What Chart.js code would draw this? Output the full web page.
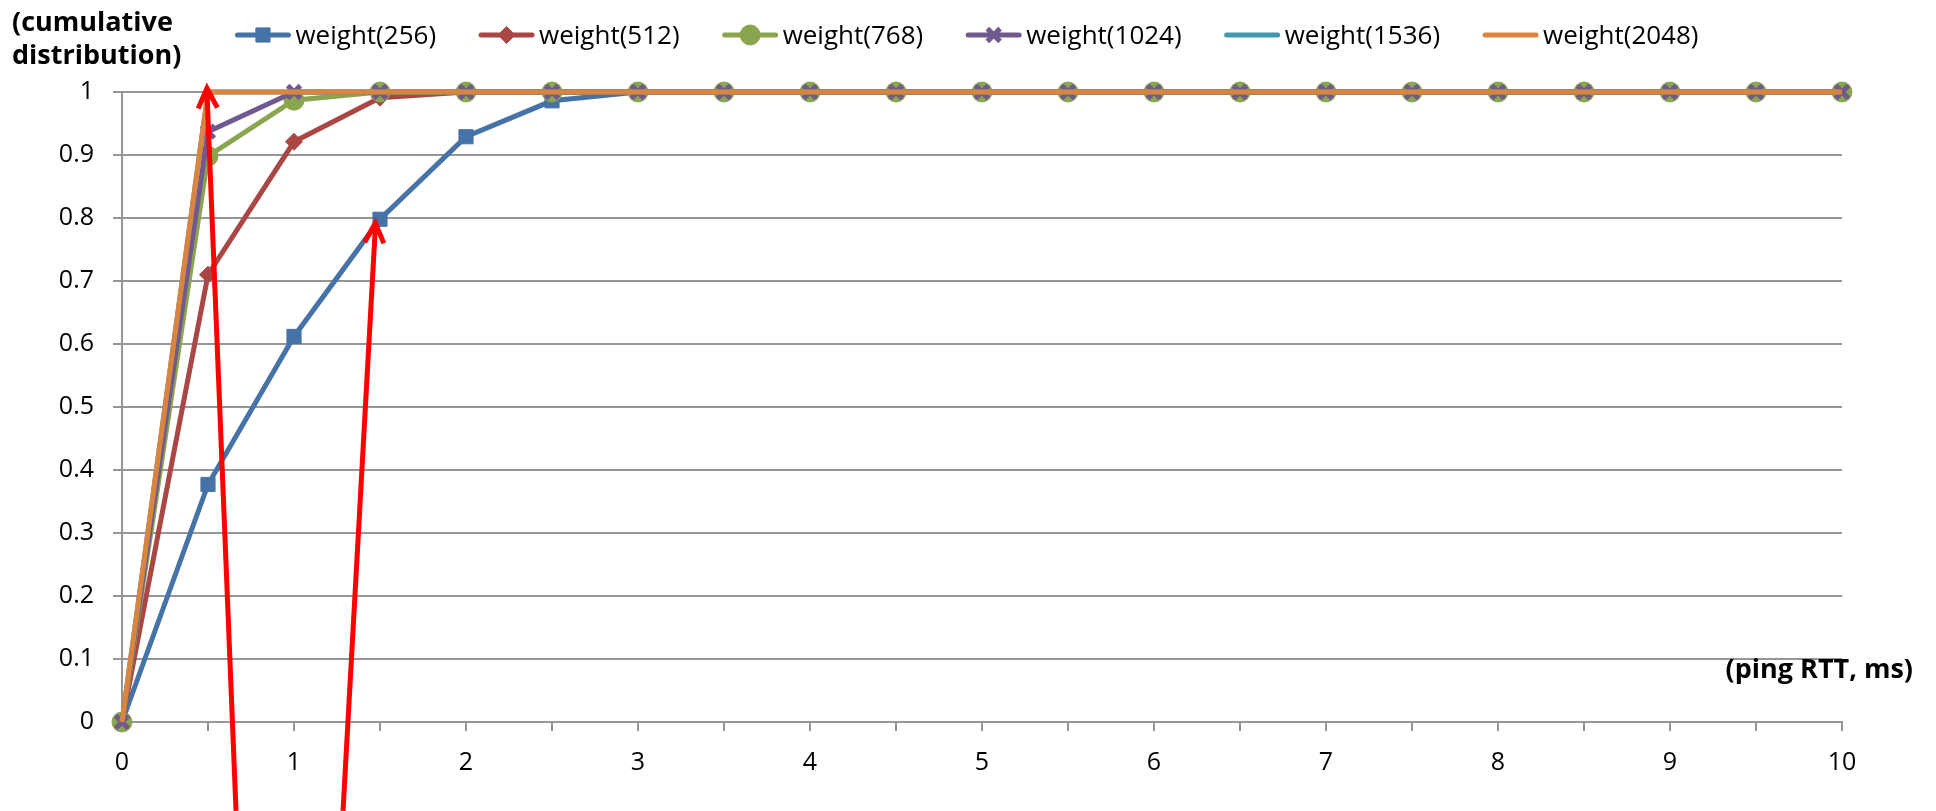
<!DOCTYPE html>
<html>
<head>
<meta charset="utf-8">
<script src="https://cdn.jsdelivr.net/npm/chart.js@4.4.0/dist/chart.umd.min.js"></script>
<style>
html,body{margin:0;padding:0;background:#ffffff;overflow:hidden}
#wrap{position:relative;width:1936px;height:811px}
</style>
</head>
<body>
<div id="wrap"><canvas id="c" width="1936" height="811"></canvas></div>
<script>
// ---- data ----
const rtt = [0, 0.5, 1, 1.5, 2, 2.5, 3, 3.5, 4, 4.5, 5, 5.5, 6, 6.5, 7, 7.5, 8, 8.5, 9, 9.5, 10];
const seriesNames = ['weight(256)', 'weight(512)', 'weight(768)', 'weight(1024)', 'weight(1536)', 'weight(2048)'];
const w256  = [0, 0.377, 0.612, 0.798, 0.929, 0.986, 1, 1, 1, 1, 1, 1, 1, 1, 1, 1, 1, 1, 1, 1, 1];
const w512  = [0, 0.71, 0.921, 0.991, 1, 1, 1, 1, 1, 1, 1, 1, 1, 1, 1, 1, 1, 1, 1, 1, 1];
const w768  = [0, 0.898, 0.987, 1, 1, 1, 1, 1, 1, 1, 1, 1, 1, 1, 1, 1, 1, 1, 1, 1, 1];
const w1024 = [0, 0.937, 1, 1, 1, 1, 1, 1, 1, 1, 1, 1, 1, 1, 1, 1, 1, 1, 1, 1, 1];
const w1536 = [0, 1, 1, 1, 1, 1, 1, 1, 1, 1, 1, 1, 1, 1, 1, 1, 1, 1, 1, 1, 1];
const w2048 = [0, 1, 1, 1, 1, 1, 1, 1, 1, 1, 1, 1, 1, 1, 1, 1, 1, 1, 1, 1, 1];
const yTitleLines = ['(cumulative', 'distribution)'];
const xTitle = '(ping RTT, ms)';
// hand-drawn red arrows in data units: [tailX, tailY, headX, headY]
const arrows = [[0.663, -0.141, 0.494, 1.006], [1.285, -0.141, 1.473, 0.792]];

// ---- styles ----
const seriesValues = [w256, w512, w768, w1024, w1536, w2048];
const colors = ['#4572A7', '#AA4643', '#89A54E', '#71588F', '#4198AF', '#DB843D'];
const markers = [
  {style: 'rect', r: 10, bw: 1},
  {style: 'rectRot', r: 8.5, bw: 1},
  {style: 'circle', r: 10, bw: 1},
  {style: 'crossRot', r: 9, bw: 5},
  {style: false, r: 0, bw: 0},
  {style: false, r: 0, bw: 0}
];
const FONT = "'Open Sans', 'DejaVu Sans', sans-serif";
const gridColor = '#969696';

const datasets = seriesNames.map((name, i) => ({
  label: name,
  data: rtt.map((x, j) => ({x: x, y: seriesValues[i][j]})),
  borderColor: colors[i],
  backgroundColor: colors[i],
  borderWidth: 5,
  pointStyle: markers[i].style || 'circle',
  pointRadius: markers[i].r,
  pointBorderWidth: markers[i].bw,
  pointBackgroundColor: colors[i],
  pointBorderColor: colors[i],
  pointHoverRadius: markers[i].r,
  tension: 0,
  clip: false,
  order: seriesNames.length - i
}));

const legendPlugin = {
  id: 'xlLegend',
  afterDraw(chart) {
    const ctx = chart.ctx;
    ctx.save();
    ctx.font = '26px ' + FONT;
    const lineLen = 55, textGap = 5, itemGap = 43, cy = 35;
    const widths = seriesNames.map(n => ctx.measureText(n).width);
    let total = 0;
    widths.forEach((w, i) => { total += lineLen + textGap + w + (i ? itemGap : 0); });
    let x = (chart.width - total) / 2 - 1;
    seriesNames.forEach((name, i) => {
      ctx.strokeStyle = colors[i];
      ctx.lineWidth = 5;
      ctx.lineCap = 'round';
      ctx.beginPath();
      ctx.moveTo(x + 2, cy);
      ctx.lineTo(x + lineLen - 2, cy);
      ctx.stroke();
      ctx.lineCap = 'butt';
      if (markers[i].style) {
        ctx.fillStyle = colors[i];
        ctx.strokeStyle = colors[i];
        ctx.lineWidth = markers[i].bw;
        Chart.helpers.drawPoint(ctx, {pointStyle: markers[i].style, radius: markers[i].r, rotation: 0, borderWidth: markers[i].bw}, x + lineLen / 2, cy);
      }
      ctx.fillStyle = '#000000';
      ctx.textBaseline = 'alphabetic';
      ctx.textAlign = 'left';
      ctx.fillText(name, x + lineLen + textGap, 44);
      x += lineLen + textGap + widths[i] + itemGap;
    });
    ctx.restore();
  }
};

const titlePlugin = {
  id: 'xlTitles',
  afterDraw(chart) {
    const ctx = chart.ctx;
    const ys = chart.scales.y;
    ctx.save();
    ctx.font = 'bold 27px ' + FONT;
    ctx.fillStyle = '#000000';
    ctx.textBaseline = 'alphabetic';
    ctx.textAlign = 'left';
    ctx.fillText(yTitleLines[0], 12, 31);
    ctx.fillText(yTitleLines[1], 12, 64);
    ctx.textAlign = 'right';
    ctx.fillText(xTitle, chart.chartArea.right + 71, ys.getPixelForValue(0.1) + 19);
    ctx.restore();
  }
};

const arrowPlugin = {
  id: 'redArrows',
  afterDraw(chart) {
    const ctx = chart.ctx;
    const xs = chart.scales.x, ys = chart.scales.y;
    ctx.save();
    ctx.strokeStyle = '#FF0000';
    ctx.lineWidth = 5;
    ctx.lineCap = 'butt';
    ctx.lineJoin = 'miter';
    arrows.forEach(a => {
      const x1 = xs.getPixelForValue(a[0]), y1 = ys.getPixelForValue(a[1]);
      const x2 = xs.getPixelForValue(a[2]), y2 = ys.getPixelForValue(a[3]);
      ctx.beginPath();
      ctx.moveTo(x1, y1);
      ctx.lineTo(x2, y2 + 4);
      ctx.stroke();
      const ang = Math.atan2(y1 - y2, x1 - x2);
      const L = 22, spread = 0.45;
      ctx.beginPath();
      ctx.moveTo(x2 + L * Math.cos(ang - spread), y2 + L * Math.sin(ang - spread));
      ctx.lineTo(x2, y2);
      ctx.lineTo(x2 + L * Math.cos(ang + spread), y2 + L * Math.sin(ang + spread));
      ctx.stroke();
    });
    ctx.restore();
  }
};

new Chart(document.getElementById('c'), {
  type: 'line',
  data: {datasets: datasets},
  options: {
    responsive: false,
    animation: false,
    events: [],
    layout: {padding: {top: 92, right: 94, left: 0, bottom: 0}},
    plugins: {legend: {display: false}, tooltip: {enabled: false}, title: {display: false}},
    scales: {
      x: {
        type: 'linear',
        min: 0, max: 10,
        afterFit(s) { s.height = 89; },
        ticks: {
          stepSize: 0.5, autoSkip: false, maxRotation: 0, minRotation: 0,
          padding: 17,
          color: '#000000',
          font: {family: FONT, size: 25},
          callback: v => Number.isInteger(v) ? String(v) : ''
        },
        grid: {drawOnChartArea: false, drawTicks: true, tickLength: 9, color: gridColor, lineWidth: 2},
        border: {display: true, color: gridColor, width: 2}
      },
      y: {
        min: 0, max: 1,
        afterFit(s) { s.width = 122; },
        ticks: {
          stepSize: 0.1,
          padding: 19,
          color: '#000000',
          font: {family: FONT, size: 25},
          callback: v => String(Math.round(v * 10) / 10)
        },
        grid: {drawTicks: true, tickLength: 9, color: gridColor, lineWidth: 2},
        border: {display: true, color: gridColor, width: 2}
      }
    }
  },
  plugins: [legendPlugin, titlePlugin, arrowPlugin]
});
</script>
</body>
</html>
